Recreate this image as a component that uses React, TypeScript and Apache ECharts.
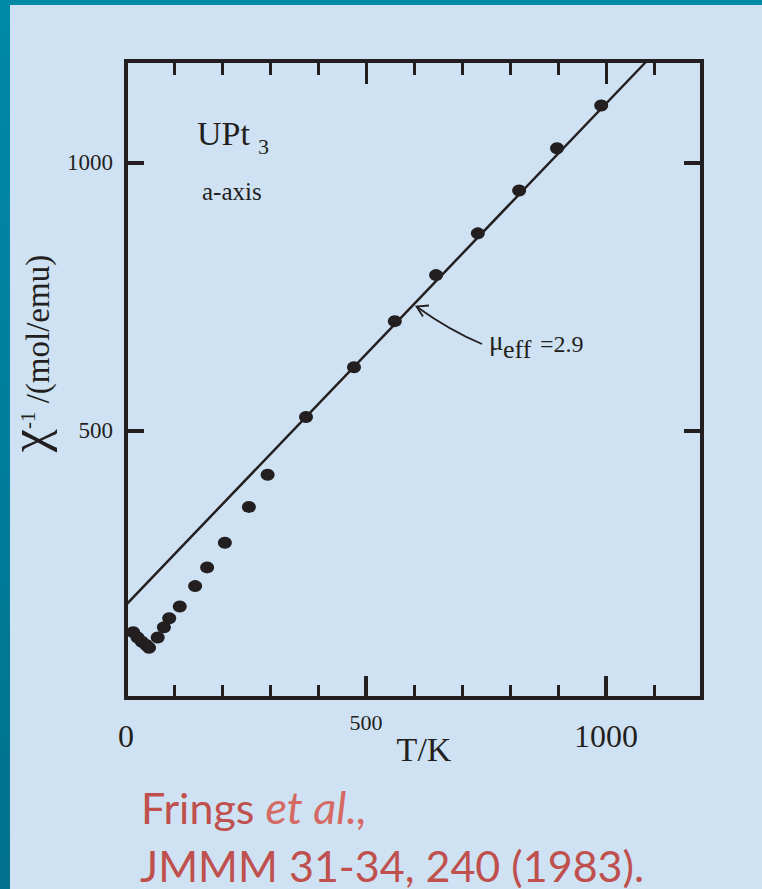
import React, { useEffect, useRef } from 'react';
import * as echarts from 'echarts';

// Data
const temperatureK = [15, 24, 33, 42, 48, 66, 79, 90, 112, 144, 169, 206, 256, 295, 375, 475, 560, 646, 733, 819, 898, 990];
const inverseChi = [123, 113, 105, 99, 94, 113, 132, 149, 171, 209, 244, 290, 357, 417, 525, 618, 704, 790, 868, 948, 1027, 1107];
// Curie-Weiss fit line (mu_eff = 2.9)
const fitT = [0, 1085];
const fitChi = [174, 1190];
// Tick labels
const xLabelsBig = [0, 1000];
const xLabelsSmall = [500];
const yLabels = [500, 1000];

const SERIF = '"Liberation Serif", "DejaVu Serif", serif';
const SANS = 'Lato, "Open Sans", sans-serif';
const INK = '#231f20';

export default function App() {
  const ref = useRef<HTMLDivElement>(null);

  useEffect(() => {
    if (!ref.current) return;
    const chart = echarts.init(ref.current, undefined, { renderer: 'svg' });

    const xBase: any = {
      type: 'value',
      min: 0,
      max: 1200,
      splitLine: { show: false },
    };
    const frameLine = { show: true, onZero: false, lineStyle: { color: INK, width: 4, cap: 'square' } };
    const noLine = { show: false, onZero: false };

    const option: any = {
      animation: false,
      backgroundColor: '#CFE2F3',
      grid: { left: 126, right: 60, top: 61, bottom: 191, containLabel: false, outerBoundsMode: 'none' },
      xAxis: [
        {
          ...xBase,
          position: 'bottom',
          interval: 100,
          axisLine: frameLine,
          axisTick: { show: true, inside: true, length: 13, lineStyle: { color: INK, width: 3 } },
          axisLabel: {
            show: true,
            margin: 22,
            fontSize: 32,
            fontFamily: SERIF,
            color: INK,
            formatter: (v: number) => (xLabelsBig.includes(v) ? String(v) : ''),
          },
          name: 'T/K',
          nameLocation: 'middle',
          nameGap: 34,
          nameMoveOverlap: false,
          nameTextStyle: { fontSize: 34, fontFamily: SERIF, color: INK, padding: [0, 0, 0, 20] },
        },
        {
          ...xBase,
          position: 'bottom',
          interval: 500,
          axisLine: noLine,
          axisTick: { show: true, inside: true, length: 22, lineStyle: { color: INK, width: 4 } },
          axisLabel: {
            show: true,
            margin: 13,
            fontSize: 22,
            fontFamily: SERIF,
            color: INK,
            formatter: (v: number) => (xLabelsSmall.includes(v) ? String(v) : ''),
          },
        },
        {
          ...xBase,
          position: 'top',
          interval: 100,
          axisLine: frameLine,
          axisTick: { show: true, inside: true, length: 14, lineStyle: { color: INK, width: 3 } },
          axisLabel: { show: false },
        },
        {
          ...xBase,
          position: 'top',
          interval: 500,
          axisLine: noLine,
          axisTick: { show: true, inside: true, length: 23, lineStyle: { color: INK, width: 3 } },
          axisLabel: { show: false },
        },
      ],
      yAxis: [
        {
          type: 'value',
          position: 'left',
          min: 0,
          max: 1190,
          interval: 500,
          splitLine: { show: false },
          axisLine: frameLine,
          axisTick: { show: true, inside: true, length: 18, lineStyle: { color: INK, width: 4 } },
          axisLabel: {
            show: true,
            margin: 13,
            fontSize: 23,
            fontFamily: SERIF,
            color: INK,
            formatter: (v: number) => (yLabels.includes(v) ? String(v) : ''),
          },
          name: '{chi|χ}{sup|-1}{t| /(mol/emu)}',
          nameLocation: 'middle',
          nameGap: 72,
          nameMoveOverlap: false,
          nameTextStyle: {
            fontFamily: SERIF,
            color: INK,
            padding: [0, 0, 0, 52],
            rich: {
              chi: { fontSize: 52, lineHeight: 52, fontFamily: SERIF, color: INK },
              sup: { fontSize: 21, fontFamily: SERIF, color: INK, verticalAlign: 'top', padding: [15, 0, 0, 0] },
              t: { fontSize: 33, fontFamily: SERIF, color: INK, verticalAlign: 'bottom' },
            },
          },
        },
        {
          type: 'value',
          position: 'right',
          min: 0,
          max: 1190,
          interval: 500,
          splitLine: { show: false },
          axisLine: frameLine,
          axisTick: { show: true, inside: true, length: 18, lineStyle: { color: INK, width: 4 } },
          axisLabel: { show: false },
        },
      ],
      series: [
        {
          type: 'line',
          xAxisIndex: 0,
          yAxisIndex: 0,
          data: fitT.map((t, i) => [t, fitChi[i]]),
          symbol: 'none',
          showSymbol: false,
          lineStyle: { color: INK, width: 2.5 },
          silent: true,
          z: 2,
        },
        {
          type: 'scatter',
          xAxisIndex: 0,
          yAxisIndex: 0,
          data: temperatureK.map((t, i) => [t, inverseChi[i]]),
          symbol: 'circle',
          symbolSize: [14, 12],
          itemStyle: { color: INK, opacity: 1 },
          z: 3,
        },
      ],
      graphic: [
        {
          type: 'rect',
          shape: { x: 0, y: 0, width: 10, height: 889 },
          style: {
            fill: {
              type: 'linear', x: 0, y: 0, x2: 0, y2: 1,
              colorStops: [
                { offset: 0, color: '#008AA8' },
                { offset: 1, color: '#00718D' },
              ],
            },
          },
          silent: true,
        },
        {
          type: 'rect',
          shape: { x: 0, y: 0, width: 762, height: 5 },
          style: { fill: '#0089A6' },
          silent: true,
        },
        {
          type: 'text', x: 197, y: 133,
          style: { text: 'UPt', fontSize: 34, fontFamily: SERIF, fill: INK, align: 'left', verticalAlign: 'middle' },
        },
        {
          type: 'text', x: 258, y: 146,
          style: { text: '3', fontSize: 22, fontFamily: SERIF, fill: INK, align: 'left', verticalAlign: 'middle' },
        },
        {
          type: 'text', x: 202, y: 191.5,
          style: { text: 'a-axis', fontSize: 25, fontFamily: SERIF, fill: INK, align: 'left', verticalAlign: 'middle' },
        },
        {
          type: 'text', x: 489, y: 341,
          style: { text: 'μ', fontSize: 27, fontFamily: SERIF, fill: INK, align: 'left', verticalAlign: 'middle' },
        },
        {
          type: 'text', x: 503, y: 349,
          style: { text: 'eff', fontSize: 26, fontFamily: SERIF, fill: INK, align: 'left', verticalAlign: 'middle' },
        },
        {
          type: 'text', x: 540, y: 344,
          style: { text: '=2.9', fontSize: 24, fontFamily: SERIF, fill: INK, align: 'left', verticalAlign: 'middle' },
        },
        {
          type: 'bezierCurve',
          shape: { x1: 482, y1: 344, cpx1: 450.5, cpy1: 331, x2: 417, y2: 307 },
          style: { stroke: INK, lineWidth: 1.8, fill: 'none' },
          silent: true,
        },
        {
          type: 'polyline',
          shape: { points: [[429, 305.5], [416.5, 306.5], [423, 316.5]] },
          style: { stroke: INK, lineWidth: 1.8, fill: 'none' },
          silent: true,
        },
        {
          type: 'text', x: 141, y: 807,
          style: {
            text: '{n|Frings }{i|et al.,}',
            fontSize: 43,
            fontFamily: SANS,
            fill: '#C0504D',
            align: 'left',
            verticalAlign: 'middle',
            rich: {
              n: { fontSize: 43, fontFamily: SANS, fill: '#C0504D' },
              i: { fontSize: 45, fontFamily: SANS, fontStyle: 'italic', fill: '#D46A63' },
            },
          },
        },
        {
          type: 'text', x: 140, y: 865,
          style: {
            text: 'JMMM 31-34, 240 (1983).',
            fontSize: 43,
            lineHeight: 40,
            fontFamily: SANS,
            fill: '#C0504D',
            align: 'left',
            verticalAlign: 'middle',
          },
        },
      ],
    };

    chart.setOption(option);
    return () => chart.dispose();
  }, []);

  return <div ref={ref} style={{ position: 'fixed', left: 0, top: 0, width: 762, height: 889 }} />;
}
